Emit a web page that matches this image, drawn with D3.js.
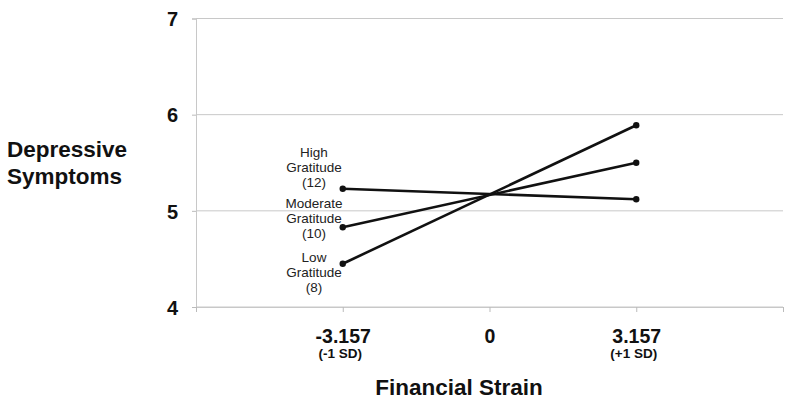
<!DOCTYPE html>
<html><head><meta charset="utf-8">
<script src="https://cdn.jsdelivr.net/npm/d3@7"></script>
<style>body{margin:0;background:#fff;}svg{display:block;font-family:"Liberation Sans",Arial,sans-serif;}</style>
</head><body>
<svg id="chart" width="800" height="405"></svg>
<script>
const xPoints = [-3.157, 3.157];
const xTickValues = [-6.314, -3.157, 0, 3.157, 6.314];
const xTickLabels = {"-3.157": ["-3.157", "(-1 SD)"], "0": ["0", ""], "3.157": ["3.157", "(+1 SD)"]};
const yTicks = [4, 5, 6, 7];
const seriesNames = ["High", "Moderate", "Low"];
const seriesLevels = ["(12)", "(10)", "(8)"];
const highValues = [5.23, 5.12];
const moderateValues = [4.83, 5.50];
const lowValues = [4.45, 5.89];
const labelY = [5.56, 5.03, 4.47];

const svg = d3.select("#chart");
const x = d3.scaleLinear().domain([-6.314, 6.314]).range([196, 783]);
const y = d3.scaleLinear().domain([4, 7]).range([307, 18.5]);

// gridlines
svg.append("g").selectAll("line").data(yTicks).join("line")
  .attr("x1", x(-6.314)).attr("x2", x(6.314))
  .attr("y1", d => y(d)).attr("y2", d => y(d))
  .attr("stroke", "#c8c8c8").attr("stroke-width", 1);

// y axis
const yAxis = svg.append("g").attr("transform", `translate(${x(-6.314)},0)`)
  .call(d3.axisLeft(y).tickValues(yTicks).tickSize(4).tickFormat(d3.format("d")));
yAxis.select(".domain").attr("stroke", "#c8c8c8");
yAxis.selectAll(".tick line").attr("stroke", "#bbb");
yAxis.selectAll(".tick text").attr("x", -18).attr("dy", "0.36em").attr("font-size", 20).attr("font-weight", "bold")
  .attr("font-family", "Liberation Sans, Arial, sans-serif").attr("fill", "#111");

// x axis
const xAxis = svg.append("g").attr("transform", `translate(0,${y(4)})`)
  .call(d3.axisBottom(x).tickValues(xTickValues).tickSize(5).tickFormat(""));
xAxis.select(".domain").attr("stroke", "#c8c8c8");
xAxis.selectAll(".tick line").attr("stroke", "#bbb");
xAxis.selectAll(".tick").each(function(d) {
  const lab = xTickLabels[String(d)];
  if (!lab) return;
  const g = d3.select(this);
  g.append("text").attr("y", 36).attr("text-anchor", "middle")
    .attr("font-size", 19.5).attr("font-weight", "bold").attr("fill", "#111").text(lab[0]);
  if (lab[1]) g.append("text").attr("y", 51).attr("x", -3).attr("text-anchor", "middle")
    .attr("font-size", 13.5).attr("font-weight", "bold").attr("fill", "#111").text(lab[1]);
});

// lines
const allSeries = [highValues, moderateValues, lowValues];
const line = d3.line().x((d, i) => x(xPoints[i])).y(d => y(d));
const sg = svg.append("g");
allSeries.forEach(vals => {
  sg.append("path").attr("d", line(vals)).attr("fill", "none")
    .attr("stroke", "#111").attr("stroke-width", 2.6);
  sg.selectAll(null).data(vals).join("circle")
    .attr("cx", (d, i) => x(xPoints[i])).attr("cy", d => y(d)).attr("r", 3.2).attr("fill", "#111");
});

// series labels
seriesNames.forEach((n, i) => {
  const t = svg.append("text").attr("text-anchor", "middle").attr("font-size", 13.5).attr("fill", "#222")
    .attr("x", 314).attr("y", y(labelY[i]));
  [n, "Gratitude", seriesLevels[i]].forEach((s, j) => {
    t.append("tspan").attr("x", 314).attr("dy", j === 0 ? 0 : 15).text(s);
  });
});

// axis titles
const yt = svg.append("text").attr("font-size", 22.5).attr("font-weight", "bold").attr("fill", "#111");
yt.append("tspan").attr("x", 7).attr("y", 157).text("Depressive");
yt.append("tspan").attr("x", 7).attr("y", 184).text("Symptoms");
svg.append("text").attr("x", 459).attr("y", 395).attr("text-anchor", "middle")
  .attr("font-size", 22.5).attr("font-weight", "bold").attr("fill", "#111").text("Financial Strain");
</script>
</body></html>
